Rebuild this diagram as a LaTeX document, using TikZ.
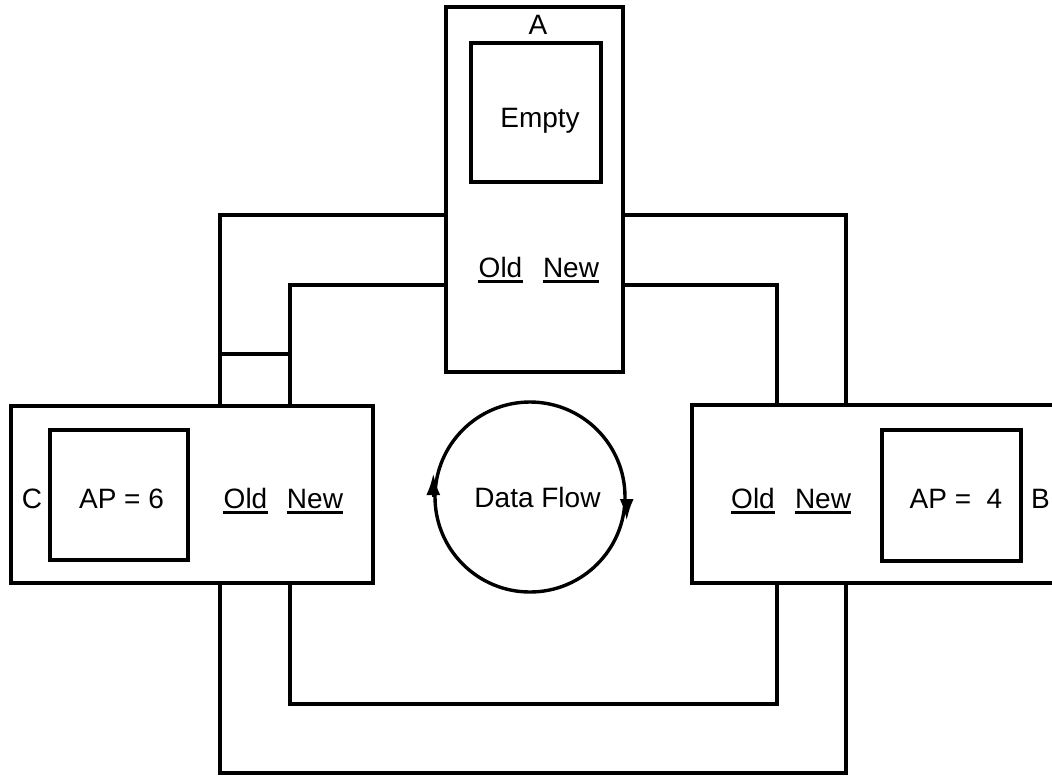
\documentclass[tikz,border=0pt]{standalone}
\usepackage{fontspec}
\setmainfont{Liberation Sans}
\usetikzlibrary{arrows.meta}
\tikzset{
  box/.style={draw, line width=1.7pt, inner sep=0pt, rectangle},
  lbl/.style={inner sep=0pt, anchor=base, font=\fontsize{14}{16}\selectfont},
  wire/.style={line width=1.7pt},
  ulinestyle/.style={line width=1.3pt},
  flowtip/.style={line width=1.7pt, -{Latex[length=11pt,width=7pt]}}
}
\begin{document}
\begin{tikzpicture}[x=0.5pt, y=-0.5pt]
\useasboundingbox (0,0) rectangle (1052,776);
\clip (0,0) rectangle (1052,776);

% main boxes
\node[box, minimum width=88.5pt, minimum height=182.5pt] (A) at (534.5,189.5) {};
\node[box, minimum width=65pt, minimum height=69.5pt] (Ain) at (536,112.5) {};
\node[box, minimum width=181pt, minimum height=88.5pt] (C) at (192,494.5) {};
\node[box, minimum width=69pt, minimum height=65pt] (Cin) at (119,495) {};
\node[box, minimum width=194pt, minimum height=89pt] (B) at (886,494) {};
\node[box, minimum width=69.5pt, minimum height=65.5pt] (Bin) at (951.5,495.5) {};

% labels
\node[lbl] (Alab) at (538,34) {A};
\node[lbl] (Aempty) at (540,127) {Empty};
\node[lbl] (Aold) at (500.5,277) {Old};
\node[lbl] (Anew) at (571,277) {New};

\node[lbl] (Clab) at (32,508) {C};
\node[lbl] (Cap) at (121.5,508) {AP = 6};
\node[lbl] (Cold) at (245.5,508) {Old};
\node[lbl] (Cnew) at (315,508) {New};

\node[lbl] (Bold) at (753,508) {Old};
\node[lbl] (Bnew) at (823,508) {New};
\node[lbl] (Bap) at (956,508) {AP =~~4};
\node[lbl] (Blab) at (1040.5,508) {B};

% underlines
\foreach \n in {Aold,Anew,Cold,Cnew,Bold,Bnew}{
  \draw[ulinestyle] ([yshift=-2.2pt]\n.base west) -- ([yshift=-2.2pt]\n.base east);
}

% data flow circle
\node[draw, circle, line width=1.7pt, minimum size=95pt, inner sep=0pt] (df) at (530,497) {};
\node[lbl] (dftext) at (537.5,507) {Data Flow};
\draw[flowtip] ([yshift=0pt]df.west) -- ([yshift=12pt]df.west);
\draw[flowtip] ([yshift=-1pt]df.east) -- ([yshift=-12pt]df.east);

% connector coordinates
\coordinate (o1) at (220,215);
\coordinate (o2) at (220,773);
\coordinate (o3) at (846,773);
\coordinate (o4) at (846,215);
\coordinate (i1) at (290,285);
\coordinate (i2) at (290,704);
\coordinate (i3) at (777,704);
\coordinate (i4) at (777,285);
\coordinate (x1) at (220,354);

% outer loop
\draw[wire] (A.west |- o1) -- (o1) -- (o1 |- C.north);
\draw[wire] (o2 |- C.south) -- (o2) -- (o3) -- (o3 |- B.south);
\draw[wire] (o4 |- B.north) -- (o4) -- (A.east |- o4);
% inner loop
\draw[wire] (A.west |- i1) -- (i1) -- (i1 |- C.north);
\draw[wire] (i2 |- C.south) -- (i2) -- (i3) -- (i3 |- B.south);
\draw[wire] (i4 |- B.north) -- (i4) -- (A.east |- i4);
% cross link
\draw[wire] (x1) -- (x1 -| i1);
\end{tikzpicture}
\end{document}
